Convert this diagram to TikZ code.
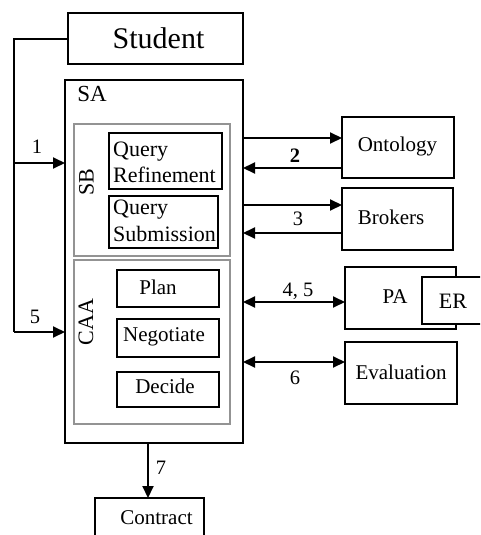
\documentclass[tikz,border=0pt]{standalone}
\usepackage{fontspec}
\setmainfont{Liberation Serif}
\usetikzlibrary{arrows.meta}
\begin{document}
\begin{tikzpicture}[x=1pt,y=-1pt,
  box/.style={draw=black,line width=2pt,minimum width=#1,inner sep=0pt,outer sep=0pt},
  gbox/.style={draw=gray!85,line width=2pt,inner sep=0pt,outer sep=0pt},
  txt/.style={inner sep=0pt,font=\fontsize{21}{25}\selectfont},
  lbl/.style={inner sep=0pt,font=\fontsize{20.5}{24}\selectfont},
  conn/.style={line width=2pt},
  tip/.style={-{Triangle[length=12pt,width=11pt]}},
  dtip/.style={{Triangle[length=12pt,width=11pt]}-{Triangle[length=12pt,width=11pt]}}]
\useasboundingbox (0,0) rectangle (480,535);
\clip (0,0) rectangle (480,535);
% boxes
\node[box=175pt,minimum height=51pt] (student) at (155.5,38.5) {};
\node[txt,font=\fontsize{30}{34}\selectfont] (studentT) at (158.5,38) {Student};
\node[box=178pt,minimum height=363pt] (SA) at (154,261.5) {};
\node[inner sep=0pt,font=\fontsize{23}{27}\selectfont] (SAT) at (92,94) {SA};
\node[gbox,minimum width=156pt,minimum height=132pt] (SB) at (152,190) {};
\node[gbox,minimum width=156pt,minimum height=164pt] (CAA) at (152,342) {};
\node[txt,rotate=90,font=\fontsize{22}{26}\selectfont] (SBT) at (86.5,182.5) {SB};
\node[txt,rotate=90,font=\fontsize{22}{26}\selectfont] (CAAT) at (86,322) {CAA};
\node[box=113pt,minimum height=56pt] (QR) at (165.5,161) {};
\node[txt,anchor=west,align=left,font=\fontsize{22}{26}\selectfont] (QRT) at (113,162.5) {Query\\Refinement};
\node[box=109pt,minimum height=52pt] (QS) at (163.5,222) {};
\node[txt,anchor=west,align=left,font=\fontsize{22}{27}\selectfont] (QST) at (113,221) {Query\\Submission};
\node[box=102pt,minimum height=37pt] (plan) at (168,288.5) {};
\node[txt] (planT) at (158,287) {Plan};
\node[box=102pt,minimum height=38pt] (neg) at (168,338) {};
\node[txt] (negT) at (164,337) {Negotiate};
\node[box=102pt,minimum height=35pt] (dec) at (168,389.5) {};
\node[txt] (decT) at (165,386) {Decide};
\node[box=112pt,minimum height=61pt] (onto) at (398,147.5) {};
\node[txt] (ontoT) at (397.5,146) {Ontology};
\node[box=111pt,minimum height=62pt] (brok) at (397.5,219) {};
\node[txt] (brokT) at (391,217) {Brokers};
\node[box=111pt,minimum height=62pt] (PA) at (400.5,298) {};
\node[txt] (PAT) at (395,297) {PA};
\node[box=70pt,minimum height=47pt,fill=white] (ER) at (457,300.5) {};
\node[txt,font=\fontsize{22}{26}\selectfont] (ERT) at (453,301) {ER};
\node[box=112pt,minimum height=62pt] (eval) at (401,373) {};
\node[txt] (evalT) at (401,372) {Evaluation};
\node[box=109pt,minimum height=56pt] (contract) at (149.5,526) {};
\node[txt] (contractT) at (156.5,518) {Contract};
% coordinates
\coordinate (c1) at (14,163);
\coordinate (c5) at (14,332);
\coordinate (cs) at (14,39);
\coordinate (r1) at (0,138);
\coordinate (r2) at (0,168);
\coordinate (r3) at (0,205);
\coordinate (r4) at (0,233);
\coordinate (r5) at (0,302);
\coordinate (r6) at (0,362);
\coordinate (c7) at (148,0);
% connectors
\draw[conn] (student.west |- cs) -- (cs) -- (c5);
\draw[conn,tip] (c1) -- (SA.west |- c1);
\draw[conn,tip] (c5) -- (SA.west |- c5);
\draw[conn,tip] (SA.east |- r1) -- (onto.west |- r1);
\draw[conn,tip] (onto.west |- r2) -- (SA.east |- r2);
\draw[conn,tip] (SA.east |- r3) -- (brok.west |- r3);
\draw[conn,tip] (brok.west |- r4) -- (SA.east |- r4);
\draw[conn,dtip] (SA.east |- r5) -- (PA.west |- r5);
\draw[conn,dtip] (SA.east |- r6) -- (eval.west |- r6);
\draw[conn,tip] (SA.south -| c7) -- (contract.north -| c7);
% labels
\node[lbl] (l1) at (37,147) {1};
\node[lbl] (l5) at (35,317) {5};
\node[lbl,font=\bfseries\fontsize{20.5}{24}\selectfont] (l2) at (295,156) {2};
\node[lbl] (l3) at (298,219) {3};
\node[lbl] (l45) at (298,291) {4, 5};
\node[lbl] (l6) at (295,378) {6};
\node[lbl] (l7) at (161,468) {7};
\end{tikzpicture}
\end{document}
